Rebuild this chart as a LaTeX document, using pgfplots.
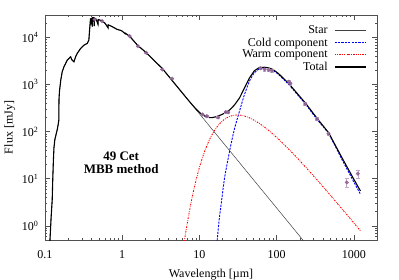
\documentclass[border=0pt]{standalone}
\usepackage{fontspec}
\setmainfont{Liberation Serif}
\usepackage{pgfplots}
\usepackage{pgfplotstable}
\pgfplotsset{compat=1.18}
\definecolor{ptcol}{RGB}{140,95,145}
\definecolor{errcol}{RGB}{195,165,200}
\definecolor{framecol}{RGB}{80,80,80}

\pgfplotstableread{
x y
0.1100 0.2
0.1160 0.5
0.1200 1.5
0.1240 3.6
0.1260 9.5
0.1285 25
0.1306 45
0.1340 67
0.1374 80
0.1440 110
0.1480 140
0.1510 175
0.1518 480
0.1540 720
0.1600 1234
0.1670 1860
0.1760 2380
0.1850 2800
0.1940 3290
0.2040 3575
0.2150 3880
0.2200 3500
0.2250 3290
0.2370 3040
0.2490 3880
0.2610 4570
0.2890 5830
0.3190 6850
0.3520 7450
0.3700 8770
0.3780 14300
0.3890 25400
0.3970 19000
0.4000 26000
0.4102 17000
0.4130 26500
0.4300 26000
0.4341 17500
0.4370 25800
0.4600 24500
0.4861 19000
0.4900 24000
0.5500 22600
0.6000 20000
0.6563 16000
0.6600 18500
0.7000 17800
0.7600 16600
0.8500 15000
0.9000 14500
0.9500 14200
1.0000 13600
1.0940 12000
1.1000 12300
1.2500 10600
1.4000 8570
1.6000 6700
1.8000 5700
2.0500 4750
2.5000 3450
3.0000 2565
3.2600 2250
3.6000 1850
4.4400 1217
5.0000 960
6 667
7 490
8 375
9 296
10 240
12 167
14 122
16 93.8
20 60
25 38.4
30 26.7
40 15
50 9.6
70 4.9
100 2.4
150 1.07
200 0.6
250 0.384
}\startab

\pgfplotstableread{
x y
16.3 0.25
17.1 0.54
18 1.3
19.2 3.0
20.2 5.8
21.2 10.5
22.3 16.5
23.4 25
25.3 48
28.5 115
33.1 272
38.4 615
44.6 1180
51.7 1790
60 2150
70 2200
79 2150
90 2000
107 1615
125 1257
145 990
180 653
238 381
335 181
472 90
700 26
1000 8.6
1220 4.7
}\coldtab

\pgfplotstableread{
x y
6 0.237
6.5 0.572
7 1.19
8 3.79
9 8.95
10 17.2
11 28.6
12 42.6
13 58.6
14 75.9
15 93.5
16 111
18 143
20.2 173
22.3 194
25.3 214
28.5 224
33.1 225
38.4 214
44.6 196
51.7 173
60 149
70 124
79 106
90 88.3
107 68.3
125 53.4
145 41.9
180 29
238 17.6
335 9.42
472 4.94
700 2.31
1000 1.16
1220 0.78
}\warmtab

\pgfplotstableread{
x y
0.1100 0.2
0.1160 0.5
0.1200 1.5
0.1240 3.6
0.1260 9.5
0.1285 25
0.1306 45
0.1340 67
0.1374 80
0.1440 110
0.1480 140
0.1510 175
0.1518 480
0.1540 720
0.1600 1234
0.1670 1860
0.1760 2380
0.1850 2800
0.1940 3290
0.2040 3575
0.2150 3880
0.2200 3500
0.2250 3290
0.2370 3040
0.2490 3880
0.2610 4570
0.2890 5830
0.3190 6850
0.3520 7450
0.3700 8770
0.3780 14300
0.3890 25400
0.3970 19000
0.4000 26000
0.4102 17000
0.4130 26500
0.4300 26000
0.4341 17500
0.4370 25800
0.4600 24500
0.4861 19000
0.4900 24000
0.5500 22600
0.6000 20000
0.6563 16000
0.6600 18500
0.7000 17800
0.7600 16600
0.8500 15000
0.9000 14500
0.9500 14200
1.0000 13600
1.0940 12000
1.1000 12300
1.2500 10600
1.4000 8570
1.6000 6700
1.8000 5700
2.0500 4750
2.5000 3450
3.0000 2565
3.2600 2250
3.6000 1850
4.4400 1217
5.0000 960
6 667
7 491
8 379
9 305
10 257
11 227
12 210
13 201
14 198
15 200
16 205
17.1 212
18 219
19.2 228
20.2 237
21.2 248
22.3 259
23.4 272
25.3 300
28.5 369
33.1 519
38.4 845
44.6 1388
51.7 1972
60 2306
70 2329
79 2260
90 2091
107 1685
125 1312
145 1033
180 683
238 399
335 191
472 95
700 28.3
1000 9.8
1220 5.5
}\totaltab

\pgfplotstableread{
x y e
0.44 24150 0
0.55 22200 0
1.25 10660 0
1.6 6530 0
2.05 4725 0
3.3 2085 0
4.44 1341 0
11.0 232 10
12.5 213 10
17.5 200 10
22.0 262 12
23.6 258 12
62 2220 150
70 2100 150
79 2040 150
87 1975 150
144 1150 80
151 1050 80
235 388 30
333 186 15
470 90.6 8
812 8.34 1.7
1128 12.8 2.5
}\obstab

\begin{document}
\begin{tikzpicture}[x=1pt,y=1pt]
\useasboundingbox (0,0) rectangle (399,279);
\begin{axis}[
  at={(45pt,39pt)}, anchor=south west,
  scale only axis, width=332pt, height=225pt,
  xmode=log, ymode=log,
  xmin=0.1, xmax=2000, ymin=0.5, ymax=30000,
  axis line style={framecol, line width=0.7pt},
  tick style={framecol, line width=0.5pt},
  tick align=inside, tick pos=both,
  major tick length=5pt, minor tick length=2.5pt,
  xtick={0.1,1,10,100,1000},
  xticklabels={0.1,1,10,100,1000},
  minor xtick={0.2,0.3,0.4,0.5,0.6,0.7,0.8,0.9,2,3,4,5,6,7,8,9,20,30,40,50,60,70,80,90,200,300,400,500,600,700,800,900,2000},
  ytick={1,10,100,1000,10000},
  yticklabels={10\textsuperscript{0},10\textsuperscript{1},10\textsuperscript{2},10\textsuperscript{3},10\textsuperscript{4}},
  minor ytick={0.6,0.7,0.8,0.9,2,3,4,5,6,7,8,9,20,30,40,50,60,70,80,90,200,300,400,500,600,700,800,900,2000,3000,4000,5000,6000,7000,8000,9000,20000,30000},
  tick label style={font=\fontsize{12}{12}\selectfont},
  xticklabel style={yshift=-7pt},
  yticklabel style={xshift=-3pt},
  xlabel={Wavelength [µm]},
  xlabel style={yshift=-4pt},
  ylabel={Flux [mJy]},
  label style={font=\fontsize{12}{12}\selectfont},
  legend style={at={(0.968,0.958)}, anchor=north east, draw=none, fill=none,
    font=\fontsize{12}{12}\selectfont, legend cell align=right,
    row sep=0.6pt, inner sep=0pt, nodes={inner sep=1pt}},
  legend plot pos=right,
  legend image code/.code={\path[draw=none,fill=none] (0pt,0pt) -- (1pt,0pt); \draw[#1] (6pt,0pt) -- (37pt,0pt);},
  clip=true,
]
\addplot[draw=black!75, line width=0.5pt] table[x=x,y=y] {\startab};
\addlegendentry{Star}
\addplot[draw=blue, line width=0.9pt, dash pattern=on 2.2pt off 1.2pt, smooth] table[x=x,y=y] {\coldtab};
\addlegendentry{Cold component}
\addplot[draw=red, line width=0.9pt, dash pattern=on 1.6pt off 1.2pt on 0.6pt off 1.2pt, smooth] table[x=x,y=y] {\warmtab};
\addlegendentry{Warm component}
\addplot[draw=black, line width=1.1pt] table[x=x,y=y] {\totaltab};
\addlegendentry{Total}
\addplot[only marks, mark=*, mark size=1.8pt, mark options={fill=ptcol, draw=ptcol, opacity=0.85},
  error bars/.cd, y dir=both, y explicit, error bar style={errcol, line width=0.6pt}, error mark options={errcol, rotate=90, mark size=1.8pt}]
  table[x=x,y=y,y error=e] {\obstab};
\node[font=\bfseries\fontsize{13}{13.5}\selectfont, align=center] at (axis cs:0.97,21.6) {49 Cet\\MBB method};
\end{axis}
\end{tikzpicture}
\end{document}
